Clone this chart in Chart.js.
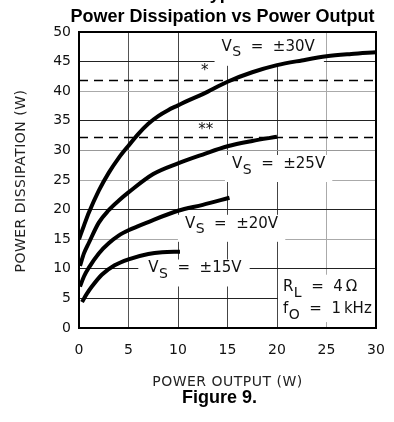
<!DOCTYPE html>
<html>
<head>
<meta charset="utf-8">
<script src="https://cdn.jsdelivr.net/npm/chart.js@4"></script>
<style>
  body { margin: 0; background: #fff; }
  canvas { display: block; }
</style>
</head>
<body>
<canvas id="chart" width="394" height="422"></canvas>
<script>
// DADOS
const out30 = [0, 0.5, 1, 2, 3, 4, 5, 6, 7, 8, 9, 10, 11, 12.5, 15, 17.5, 20, 22.5, 25, 27.5, 30];
const diss30 = [15, 17.3, 19.5, 23.2, 26.2, 28.7, 30.8, 32.8, 34.5, 35.8, 36.8, 37.6, 38.4, 39.5, 41.6, 43.2, 44.4, 45.2, 45.9, 46.3, 46.6];

const out25 = [0.1, 0.5, 1, 2, 3, 4, 5, 7.5, 10, 12.5, 15, 17.5, 20];
const diss25 = [10.5, 12.6, 14.4, 17.8, 19.9, 21.5, 22.9, 26.0, 27.8, 29.3, 30.7, 31.6, 32.3];

const out20 = [0.1, 0.5, 1, 2, 3, 4, 5, 7, 10, 12.5, 15.2];
const diss20 = [7.0, 8.7, 10.2, 12.6, 14.3, 15.6, 16.5, 17.9, 19.8, 20.8, 22.0];

const out15 = [0.3, 0.8, 1.3, 2.3, 3.6, 5, 7, 8.4, 10.2];
const diss15 = [4.4, 5.8, 7.0, 9.0, 10.6, 11.6, 12.5, 12.8, 12.9];

const limitOne = 41.8;  // *
const limitTwo = 32.2;  // **

const xTicks = { min: 0, max: 30, step: 5 };
const yTicks = { min: 0, max: 50, step: 5 };

const FONT = '"DejaVu Sans", sans-serif';
const BOLD = '"Liberation Sans", Arial, sans-serif';

function pts(xs, ys) {
  return xs.map((x, i) => ({ x: x, y: ys[i] }));
}

function curve(xs, ys) {
  return {
    data: pts(xs, ys),
    borderColor: "#000",
    borderWidth: 4,
    pointRadius: 0,
    cubicInterpolationMode: "monotone",
    fill: false,
  };
}

function dashed(v) {
  return {
    data: [{ x: xTicks.min, y: v }, { x: xTicks.max, y: v }],
    borderColor: "#000",
    borderWidth: 1.5,
    borderDash: [9, 6],
    pointRadius: 0,
    fill: false,
  };
}

// cores da grade (algumas linhas escuras, outras cinza)
const gridX = { 5: "#555", 10: "#444", 15: "#444", 20: "#444", 25: "#aaa" };
const gridY = { 5: "#222", 10: "#222", 15: "#aaa", 20: "#222", 25: "#aaa", 30: "#999", 35: "#222", 40: "#aaa", 45: "#222" };

// ROTULOS
const notes = [
  { x: 14.4, y: 47.5, main: "V", sub: "S", rest: "  =  \u00b130V", box: [7, 14, 9, 5] },
  { x: 15.45, y: 27.7, main: "V", sub: "S", rest: "  =  \u00b125V", box: [7, 9, 7, 4] },
  { x: 10.7, y: 17.6, main: "V", sub: "S", rest: "  =  \u00b120V", box: [7, 9, 7, 4] },
  { x: 7.0, y: 10.05, main: "V", sub: "S", rest: "  =  \u00b115V", box: [10, 9, 8, 4] },
];

function drawSubText(ctx, x, y, main, sub, rest) {
  ctx.textBaseline = "middle";
  ctx.textAlign = "left";
  ctx.font = "15px " + FONT;
  ctx.fillText(main, x, y);
  let w = ctx.measureText(main).width;
  ctx.font = "14px " + FONT;
  ctx.fillText(sub, x + w + 0.5, y + 6);
  w += ctx.measureText(sub).width + 0.5;
  ctx.font = "15px " + FONT;
  ctx.fillText(rest, x + w, y);
  return w + ctx.measureText(rest).width;
}

const labelsPlugin = {
  id: "labels",
  beforeDraw(chart) {
    const ctx = chart.ctx;
    ctx.save();
    ctx.fillStyle = "#fff";
    ctx.fillRect(0, 0, chart.width, chart.height);
    ctx.restore();
  },
  beforeDatasetsDraw(chart) {
    const ctx = chart.ctx;
    const xs = chart.scales.x;
    const ys = chart.scales.y;
    const area = chart.chartArea;
    ctx.save();

    notes.forEach((n) => {
      const px = xs.getPixelForValue(n.x);
      const py = ys.getPixelForValue(n.y);
      ctx.font = "15px " + FONT;
      const w = ctx.measureText(n.main + n.sub + n.rest).width;
      ctx.fillStyle = "#fff";
      ctx.fillRect(px - n.box[0], py - n.box[1], w + n.box[0] + n.box[2], n.box[1] + 14 + n.box[3]);
      ctx.fillStyle = "#111";
      drawSubText(ctx, px, py, n.main, n.sub, n.rest);
    });

    // caixa RL / fO
    const bx = xs.getPixelForValue(20.1);
    const by = ys.getPixelForValue(9.0);
    ctx.fillStyle = "#fff";
    ctx.fillRect(bx, by, area.right - bx, ys.getPixelForValue(1) - by);
    ctx.fillStyle = "#111";
    drawSubText(ctx, xs.getPixelForValue(20.6), ys.getPixelForValue(6.9), "R", "L", "  =  4\u2009\u03a9");
    drawSubText(ctx, xs.getPixelForValue(20.6), ys.getPixelForValue(3.2), "f", "O", "  =  1\u2009kHz");

    // asteriscos
    ctx.font = "15px " + FONT;
    ctx.textAlign = "center";
    ctx.textBaseline = "middle";
    ctx.fillText("*", xs.getPixelForValue(12.7), ys.getPixelForValue(43.9) + 3);
    ctx.fillText("**", xs.getPixelForValue(12.8), ys.getPixelForValue(34.0) + 3);
    ctx.restore();
  },
  afterDatasetsDraw(chart) {
    const ctx = chart.ctx;
    const a = chart.chartArea;
    ctx.save();
    ctx.strokeStyle = "#000";
    ctx.lineWidth = 2;
    ctx.strokeRect(a.left, a.top, a.right - a.left, a.bottom - a.top);
    ctx.restore();
  },
  afterDraw(chart) {
    const ctx = chart.ctx;
    const a = chart.chartArea;
    ctx.save();
    ctx.fillStyle = "#000";
    ctx.textBaseline = "alphabetic";

    ctx.font = "bold 18px " + BOLD;
    ctx.textAlign = "left";
    ctx.fillText("Typical Performance Characteristics", 200, -1);

    ctx.textAlign = "center";
    ctx.fillText("Power Dissipation vs Power Output", 222.5, 22);
    ctx.fillText("Figure 9.", 219.5, 403);

    ctx.fillStyle = "#222";
    ctx.font = "14px " + FONT;
    ctx.letterSpacing = "0.5px";
    ctx.fillText("POWER OUTPUT (W)", (a.left + a.right) / 2, 386);

    ctx.translate(25, 181);
    ctx.rotate(-Math.PI / 2);
    ctx.fillText("POWER DISSIPATION (W)", 0, 0);
    ctx.restore();
  },
};

const chart = new Chart(document.getElementById("chart"), {
  type: "line",
  data: {
    datasets: [
      curve(out30, diss30),
      curve(out25, diss25),
      curve(out20, diss20),
      curve(out15, diss15),
      dashed(limitOne),
      dashed(limitTwo),
    ],
  },
  options: {
    responsive: false,
    animation: false,
    layout: { padding: { top: 32, right: 18, left: 0, bottom: 0 } },
    plugins: { legend: { display: false }, tooltip: { enabled: false } },
    scales: {
      x: {
        type: "linear",
        min: xTicks.min,
        max: xTicks.max,
        ticks: { stepSize: xTicks.step, color: "#111", font: { family: FONT, size: 14 }, padding: 14, maxRotation: 0 },
        grid: { color: (c) => gridX[c.tick.value] || "rgba(0,0,0,0)", lineWidth: 1, drawTicks: false },
        border: { display: false },
        afterFit: (s) => { s.height = 94; s.paddingLeft = 0; s.paddingRight = 0; },
      },
      y: {
        type: "linear",
        min: yTicks.min,
        max: yTicks.max,
        ticks: { stepSize: yTicks.step, color: "#111", font: { family: FONT, size: 14 }, padding: 8 },
        grid: { color: (c) => gridY[c.tick.value] || "rgba(0,0,0,0)", lineWidth: 1, drawTicks: false },
        border: { display: false },
        afterFit: (s) => { s.width = 79; s.paddingTop = 0; s.paddingBottom = 0; },
      },
    },
  },
  plugins: [labelsPlugin],
});
</script>
</body>
</html>
